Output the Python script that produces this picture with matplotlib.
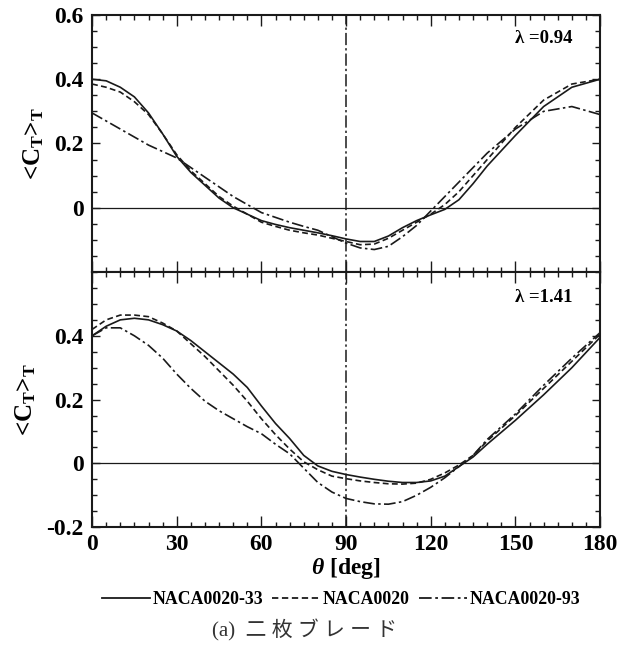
import matplotlib
matplotlib.use("Agg")
import matplotlib.pyplot as plt
from matplotlib.ticker import MultipleLocator
from matplotlib.lines import Line2D

plt.rcParams['font.family'] = ['Liberation Serif', 'DejaVu Serif']
plt.rcParams['font.weight'] = 'bold'
plt.rcParams['mathtext.fontset'] = 'custom'
plt.rcParams['mathtext.rm'] = 'Liberation Serif:bold'
plt.rcParams['mathtext.it'] = 'Liberation Serif:bold:italic'
plt.rcParams['mathtext.bf'] = 'Liberation Serif:bold'

# --- datos ---
theta = [0, 5, 10, 15, 20, 25, 30, 35, 40, 45, 50, 55, 60, 65, 70, 75, 80, 85, 90,
         95, 100, 105, 110, 115, 120, 125, 130, 135, 140, 150, 160, 170, 180]

# lambda = 0.94
top_33 = [0.40, 0.395, 0.375, 0.345, 0.295, 0.23, 0.16, 0.11, 0.07, 0.03, 0.0, -0.02,
          -0.04, -0.052, -0.062, -0.07, -0.078, -0.087, -0.097, -0.105, -0.105, -0.088,
          -0.062, -0.04, -0.022, -0.005, 0.025, 0.075, 0.13, 0.225, 0.315, 0.375, 0.40]
top_00 = [0.385, 0.375, 0.36, 0.33, 0.29, 0.23, 0.165, 0.115, 0.075, 0.035, 0.005, -0.02,
          -0.045, -0.058, -0.07, -0.078, -0.085, -0.095, -0.105, -0.115, -0.113, -0.095,
          -0.07, -0.045, -0.02, 0.01, 0.05, 0.10, 0.15, 0.25, 0.335, 0.385, 0.40]
top_93 = [0.295, 0.27, 0.245, 0.22, 0.195, 0.175, 0.155, 0.125, 0.095, 0.065, 0.035, 0.01,
          -0.015, -0.03, -0.045, -0.058, -0.07, -0.09, -0.11, -0.125, -0.13, -0.12,
          -0.09, -0.055, -0.01, 0.035, 0.08, 0.125, 0.17, 0.245, 0.30, 0.315, 0.29]

# lambda = 1.41
bot_33 = [0.40, 0.43, 0.45, 0.455, 0.45, 0.435, 0.415, 0.385, 0.35, 0.315, 0.28, 0.238,
          0.18, 0.125, 0.078, 0.025, -0.008, -0.025, -0.035, -0.043, -0.05, -0.056, -0.06,
          -0.06, -0.055, -0.04, -0.01, 0.02, 0.06, 0.135, 0.215, 0.30, 0.395]
bot_00 = [0.42, 0.45, 0.465, 0.465, 0.46, 0.44, 0.415, 0.375, 0.335, 0.29, 0.245, 0.195,
          0.14, 0.09, 0.045, 0.005, -0.02, -0.04, -0.048, -0.055, -0.06, -0.064, -0.065,
          -0.062, -0.05, -0.03, -0.005, 0.025, 0.07, 0.15, 0.235, 0.32, 0.405]
bot_93 = [0.40, 0.425, 0.425, 0.40, 0.37, 0.33, 0.28, 0.235, 0.195, 0.165, 0.14, 0.115,
          0.093, 0.06, 0.03, -0.015, -0.06, -0.09, -0.11, -0.12, -0.127, -0.128, -0.12,
          -0.1, -0.075, -0.045, -0.01, 0.025, 0.075, 0.155, 0.245, 0.33, 0.41]

labels = ['NACA0020-33', 'NACA0020', 'NACA0020-93']
styles = ['-', (0, (3.5, 2)), (0, (7, 2, 1.5, 2))]
col = '#1a1a1a'

fig = plt.figure(figsize=(6.35, 6.5), dpi=100)
ax1 = fig.add_axes([0.145, 0.5815, 0.80, 0.3955])
ax2 = fig.add_axes([0.145, 0.189, 0.80, 0.3925])

paneles = [(ax1, [top_33, top_00, top_93], 'λ =0.94', 0.91, [0, 0.2, 0.4, 0.6]),
           (ax2, [bot_33, bot_00, bot_93], 'λ =1.41', 0.90, [-0.2, 0, 0.2, 0.4])]

for ax, series, lam, ylam, yt in paneles:
    for ys, ls in zip(series, styles):
        ax.plot(theta, ys, color=col, lw=1.2, linestyle=ls)
    ax.axhline(0, color=col, lw=0.9)
    ax.axvline(90, color=col, lw=1.1, linestyle=(0, (8, 2, 1.5, 2)))
    ax.set_xlim(0, 180)
    ax.set_ylim(-0.2, 0.6)
    ax.xaxis.set_major_locator(MultipleLocator(30))
    ax.xaxis.set_minor_locator(MultipleLocator(5))
    ax.set_yticks(yt)
    ax.set_yticklabels(['0' if v == 0 else f'{v:.1f}' for v in yt])
    ax.yaxis.set_minor_locator(MultipleLocator(0.05))
    ax.tick_params(which='both', direction='in', top=True, right=True, width=1.0, color=col)
    ax.tick_params(axis='x', which='major', length=8, labelsize=17, pad=5)
    ax.tick_params(axis='y', which='major', length=6, labelsize=17, pad=6)
    ax.tick_params(which='minor', length=3.5)
    for s in ax.spines.values():
        s.set_linewidth(1.5)
        s.set_color(col)
    ax.text(0.945, ylam, lam, transform=ax.transAxes, ha='right', va='center',
            fontsize=13.5, fontweight='bold')
    ax.set_ylabel('<C$_\\mathrm{T}$>$_\\mathrm{T}$', fontsize=18, fontweight='bold', labelpad=6)

ax1.tick_params(labelbottom=False)
ax2.set_xlabel('$\\mathit{\\theta}$ [deg]', fontsize=17, fontweight='bold', labelpad=1)

handles = [Line2D([], [], color=col, lw=1.3, linestyle=ls) for ls in styles]
fig.legend(handles, labels, loc='center', bbox_to_anchor=(0.537, 0.078), ncol=3,
           frameon=False, handlelength=2.7, handletextpad=0.15,
           columnspacing=0.5, prop={'weight': 'bold', 'size': 12.8})

fig.text(0.48, 0.03, '(a)  二 枚 ブ レ ー ド', ha='center', va='center', fontsize=15,
         fontweight='normal', color='#333333',
         family=['Liberation Serif', 'Noto Sans CJK JP'])

fig.savefig('out.png', dpi=100)
